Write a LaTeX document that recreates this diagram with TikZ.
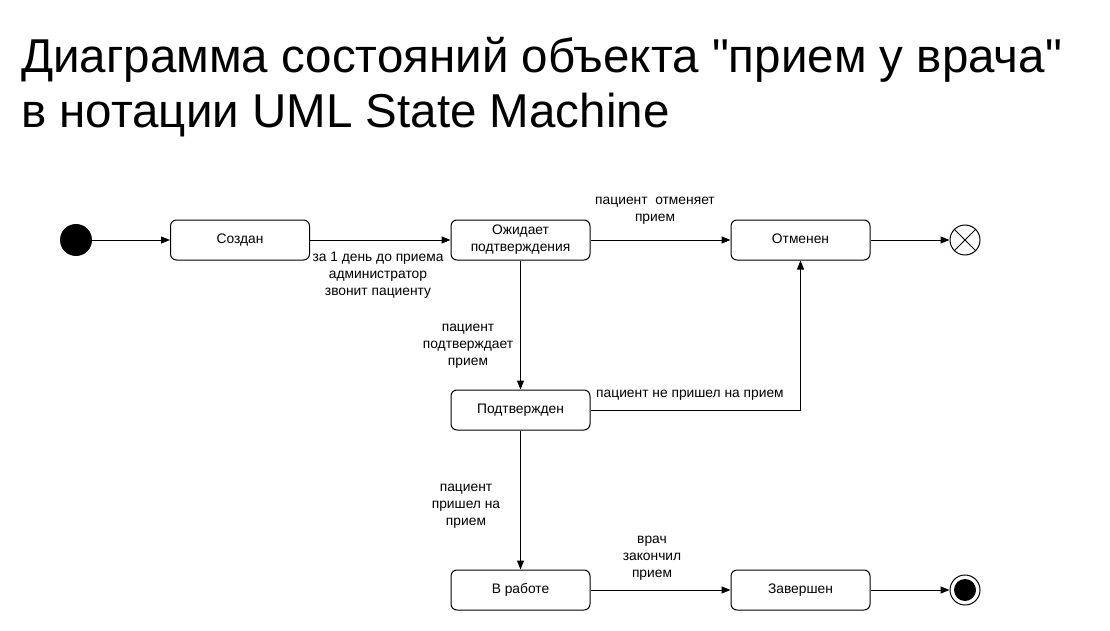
\documentclass[tikz,border=0pt]{standalone}
\usepackage{fontspec}
\setmainfont{Liberation Sans}[Ligatures=TeXOff]
\usetikzlibrary{arrows.meta}
\newcommand{\lblfont}{\fontsize{13.8}{17}\selectfont}
\begin{document}
\begin{tikzpicture}[x=1pt,y=-1pt,
  state/.style={draw, rounded corners=6pt, minimum width=139pt, minimum height=40pt, line width=1pt, font=\lblfont, align=center, inner sep=2pt},
  arr/.style={-{Triangle[length=9pt,width=7pt]}, line width=1pt},
  lbl/.style={font=\lblfont, align=center, inner sep=0pt},
  title/.style={font=\fontsize{47.5}{55}\selectfont, anchor=base west, inner sep=0pt}]
\useasboundingbox (0,0) rectangle (1110,631);
\node[title] (t1) at (21,73) {Диаграмма состояний объекта "прием у врача"};
\node[title] (t2) at (21,128) {в нотации UML State Machine};

\node[circle, fill=black, minimum size=32pt, inner sep=0pt] (init) at (76,240) {};
\node[state] (c) at (240,240) {\strut Создан};
\node[state] (w) at (520.5,240) {Ожидает\\подтверждения};
\node[state] (o) at (800.5,240) {\strut Отменен};
\node[state] (p) at (520.5,410) {\strut Подтвержден};
\node[state] (r) at (520.5,590) {\strut В работе};
\node[state] (z) at (800.5,590) {\strut Завершен};
\node[circle, draw, line width=1pt, minimum size=30pt, inner sep=0pt] (term) at (965,240) {};
\draw[line width=1pt] (term.north west) -- (term.south east) (term.north east) -- (term.south west);
\node[circle, draw, line width=1pt, minimum size=30pt, inner sep=0pt] (fin) at (965,590) {};
\node[circle, fill=black, minimum size=22pt, inner sep=0pt] (finin) at (fin) {};

\draw[arr] (init) -- (c);
\draw[arr] (c) -- (w);
\draw[arr] (w) -- (o);
\draw[arr] (o) -- (term);
\draw[arr] (w) -- (p);
\draw[arr] (p.east) -| (o.south);
\draw[arr] (p) -- (r);
\draw[arr] (r) -- (z);
\draw[arr] (z) -- (fin);

\node[lbl, anchor=north] (l1) at (378,252) {за 1 день до приема\\администратор\\звонит пациенту};
\node[lbl] (l2) at (655,211) {пациент\ \ отменяет\\прием};
\node[lbl] (l3) at (468,346) {пациент\\подтверждает\\прием};
\node[lbl, anchor=west] (l4) at (596,395) {пациент не пришел на прием};
\node[lbl] (l5) at (466,506) {пациент\\пришел на\\прием};
\node[lbl] (l6) at (652,558) {врач\\закончил\\прием};
\end{tikzpicture}
\end{document}
